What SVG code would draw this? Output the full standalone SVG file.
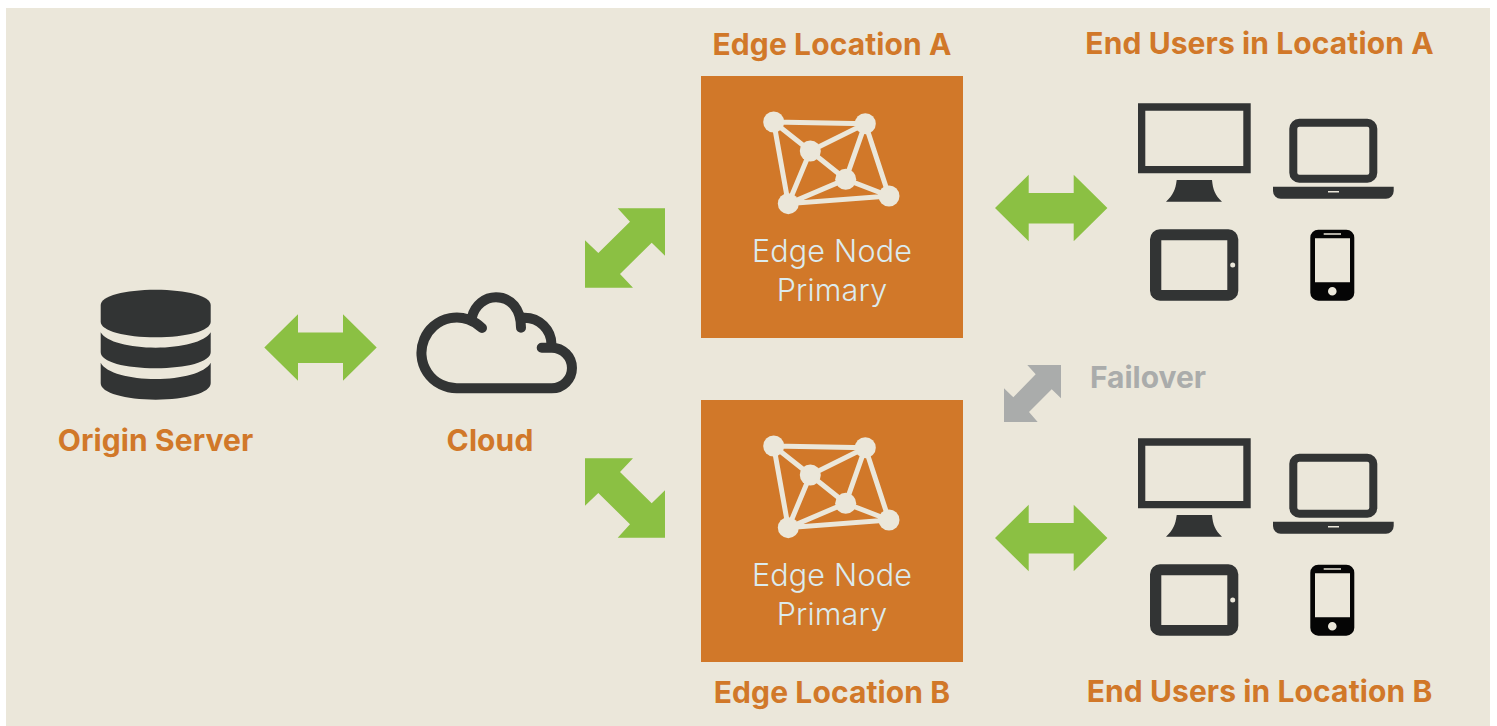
<svg xmlns="http://www.w3.org/2000/svg" xmlns:xlink="http://www.w3.org/1999/xlink" width="1497" height="726" viewBox="0 0 1497 726">
<style>
text{font-family:"Inter","Lato","Liberation Sans",sans-serif;text-anchor:middle}
.lbl{font-size:30px;font-weight:700;fill:#d17829;letter-spacing:.1px}
.sub{font-size:30.500px;font-weight:300;fill:#dcebee;letter-spacing:.2px}
.fail{font-size:30px;font-weight:700;fill:#aaacab}
.dark{fill:#323434}
.bg{fill:#ebe7da}
.green{fill:#8bc043}
.grey{fill:#aaacab}
.ln{stroke:#ebe7da;stroke-width:5;fill:none}
</style>
<defs>
<g id="edge-box">
<rect x="701" y="76" width="262" height="262" fill="#d17829"/>
<path class="ln" d="M773.7 122L865.3 123.7L889 196L788.3 203.7L773.7 122L810.3 151L845.7 179.3L889 196M865.3 123.7L810.3 151L788.3 203.7L845.7 179.3L865.3 123.7"/>
<g class="bg"><circle cx="773.7" cy="122" r="10.5"/><circle cx="865.3" cy="123.7" r="10.5"/><circle cx="810.3" cy="151" r="10.5"/><circle cx="845.7" cy="179.3" r="10.5"/><circle cx="788.3" cy="203.7" r="10.5"/><circle cx="889" cy="196" r="10.5"/></g>
<text class="sub" x="832" y="262">Edge Node</text>
<text class="sub" x="832" y="301">Primary</text>
</g>
<g id="devices">
<path class="dark" fill-rule="evenodd" d="M1138 103.3H1250.7V173.3H1138ZM1145.3 110.7V166H1243.3V110.7Z"/>
<path class="dark" d="M1176.7 180H1212C1213 190 1215 195 1222 201.7H1166C1173 195 1175.500 190 1176.7 180Z"/>
<path class="dark" fill-rule="evenodd" d="M1299.300 118.700H1367.300A10 10 0 0 1 1377.300 128.700V172.700A10 10 0 0 1 1367.300 182.700H1299.300A10 10 0 0 1 1289.300 172.700V128.700A10 10 0 0 1 1299.300 118.700ZM1299.300 126.700A2 2 0 0 0 1297.300 128.700V172.700A2 2 0 0 0 1299.300 174.700H1367.300A2 2 0 0 0 1369.300 172.700V128.700A2 2 0 0 0 1367.300 126.700Z"/>
<path class="dark" fill-rule="evenodd" d="M1273 186.700H1393.700V191A7.700 7.700 0 0 1 1386 198.700H1280.700A7.700 7.700 0 0 1 1273 191ZM1328 191V192.500H1339V191Z"/>
<path class="dark" fill-rule="evenodd" d="M1160 229.300H1228.300A10 10 0 0 1 1238.300 239.300V290.700A10 10 0 0 1 1228.300 300.700H1160A10 10 0 0 1 1150 290.700V239.300A10 10 0 0 1 1160 229.300ZM1161.300 240.300V290H1227.300V240.300ZM1232.700 262.500A2.500 2.500 0 1 0 1232.700 267.500A2.500 2.500 0 1 0 1232.700 262.500Z"/>
<path fill="#050505" fill-rule="evenodd" d="M1318.300 229.700H1346.300A8 8 0 0 1 1354.300 237.700V292.700A8 8 0 0 1 1346.300 300.700H1318.300A8 8 0 0 1 1310.300 292.700V237.700A8 8 0 0 1 1318.300 229.700ZM1323.700 233.300V234.700H1341V233.300ZM1315 238.300V282.300H1350V238.300ZM1332.300 287A4.300 4.300 0 1 0 1332.300 295.600A4.300 4.300 0 1 0 1332.300 287Z"/>
</g>
<polygon id="diag" points="617.7,208.3 665,208.3 665,255.7 651.7,242.7 620,274 633,287.7 585,287.7 585,240.3 598.3,253 630,221.7"/>
<polygon id="h" points="0,0 33.700,-33.300 33.700,-15 78.700,-15 78.700,-33.300 112.400,0 78.700,33.300 78.700,15.500 33.700,15.500 33.700,33.300"/>
</defs>
<rect x="6" y="8" width="1484" height="718" class="bg"/>
<g id="connectors">
<use href="#h" x="264.300" y="347.500" class="green"/>
<use href="#diag" class="green"/>
<use href="#diag" class="green" transform="matrix(1 0 0 -1 0 746)"/>
<use href="#h" x="995" y="208" class="green"/>
<use href="#h" x="995" y="538" class="green"/>
<polygon class="grey" points="1027.300,365 1061,365 1061,398.300 1051.700,389.300 1029,412 1037.700,422 1004,422 1004,388.300 1013.300,397.300 1035.700,374.300"/>
</g>
<g id="origin-server">
<path class="dark" d="M100.700 305C100.700 296 125 289.700 155.700 289.700S210.700 296 210.700 305V321.700C210.700 331 186 337.300 155.700 337.300S100.700 331 100.700 321.700Z"/>
<path class="dark" d="M100.700 332.300C106 342 130 347.700 155.700 347.700S205 342 210.700 332.300V352.300C210.700 362 186 368.300 155.700 368.300S100.700 362 100.700 352.300Z"/>
<path class="dark" d="M100.700 362.700C106 373 130 379 155.700 379S205 373 210.700 362.700V383.300C210.700 393 186 399.700 155.700 399.700S100.700 393 100.700 383.300Z"/>
<text class="lbl" x="155.500" y="451">Origin Server</text>
</g>
<g id="cloud">
<path d="M482 328A35.400 35.400 0 1 0 456.700 388.300H551.700A20.300 20.300 0 0 0 551.700 347.700H541.700M472 317C475 305 485 297.300 496 297.300C511 297.300 521 309 521 327.700M524 317.700A27 27 0 0 1 551.500 345" fill="none" stroke="#323434" stroke-width="10" stroke-linecap="round"/>
<text class="lbl" x="490" y="451">Cloud</text>
</g>
<g id="edge-a">
<text class="lbl" x="832" y="55">Edge Location A</text>
<use href="#edge-box"/>
</g>
<g id="edge-b">
<use href="#edge-box" y="324"/>
<text class="lbl" x="832" y="703">Edge Location B</text>
</g>
<g id="users-a">
<text class="lbl" x="1259.500" y="54">End Users in Location A</text>
<use href="#devices"/>
</g>
<g id="users-b">
<use href="#devices" y="335"/>
<text class="lbl" x="1259.500" y="702">End Users in Location B</text>
</g>
<g id="failover">
<text class="fail" x="1148" y="388">Failover</text>
</g>
</svg>
